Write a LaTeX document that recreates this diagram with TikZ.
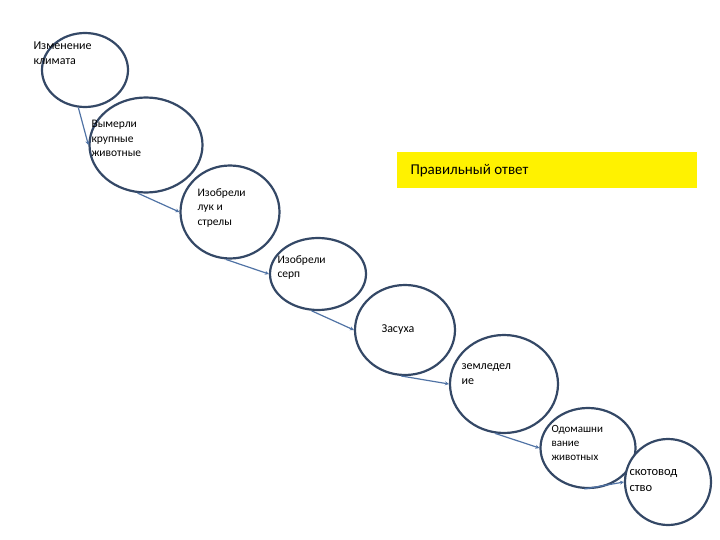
\documentclass[tikz,border=0pt]{standalone}
\usepackage{fontspec}
\setmainfont{Carlito}
\usetikzlibrary{shapes.geometric,arrows.meta}
\definecolor{ring}{RGB}{52,72,102}
\definecolor{conn}{RGB}{80,115,165}
\definecolor{yel}{RGB}{255,242,0}
\tikzset{
 bub/.style={ellipse,draw=ring,line width=2.2pt,fill=white,inner sep=0pt,align=left,font=\fontsize{12}{15}\selectfont,text=black},
 link/.style={draw=conn,line width=1.2pt,-{Stealth[length=4pt,width=4pt]}}
}
\begin{document}
\begin{tikzpicture}[x=1pt,y=-1pt]
\useasboundingbox (0,0) rectangle (720,540);
\fill[yel] (397,152) rectangle (697,188);
\node[font=\fontsize{15}{18}\selectfont,anchor=west] (ans) at (407,171) {Правильный ответ};
\node[bub,minimum width=86pt,minimum height=74pt] (a) at (85,70) {};
\node[anchor=north west,align=left,font=\fontsize{12}{15}\selectfont] at (30,38) {Изменение\\климата};
\node[bub,minimum width=113pt,minimum height=95pt] (b) at (146,145) {};
\node[anchor=north west,align=left,font=\fontsize{11.5}{14.5}\selectfont] at (88,117) {Вымерли\\крупные\\животные};
\node[bub,minimum width=99pt,minimum height=93pt] (c) at (230,212) {};
\node[anchor=north west,align=left,font=\fontsize{11.5}{14.5}\selectfont] at (194,185) {Изобрели\\лук и\\стрелы};
\node[bub,minimum width=96pt,minimum height=72pt] (d) at (318,274) {};
\node[anchor=north west,align=left,font=\fontsize{11.5}{14.5}\selectfont] at (274,252) {Изобрели\\серп};
\node[bub,minimum width=100pt,minimum height=90pt] (e) at (405,330) {};
\node[font=\fontsize{12}{15}\selectfont] at (398,330) {Засуха};
\node[bub,minimum width=108pt,minimum height=98pt] (f) at (504,384) {};
\node[anchor=north west,align=left,font=\fontsize{12}{15}\selectfont] at (458,360) {земледел\\ие};
\node[bub,minimum width=95pt,minimum height=80pt] (g) at (588,448) {};
\node[anchor=north west,align=left,font=\fontsize{11}{14}\selectfont] at (548,422) {Одомашни\\вание\\животных};
\node[bub,minimum width=86pt,minimum height=86pt] (h) at (668,482) {};
\node[anchor=north west,align=left,font=\fontsize{12.5}{15.5}\selectfont] at (626,466) {скотовод\\ство};
\draw[link] (a.-100) -- (b.west);
\draw[link] (b.-100) -- (c.west);
\draw[link] (c.-95) -- (d.west);
\draw[link] (d.-100) -- (e.west);
\draw[link] (e.-95) -- (f.west);
\draw[link] (f.-100) -- (g.west);
\draw[link] (g.-95) -- (h.west);
\end{tikzpicture}
\end{document}
